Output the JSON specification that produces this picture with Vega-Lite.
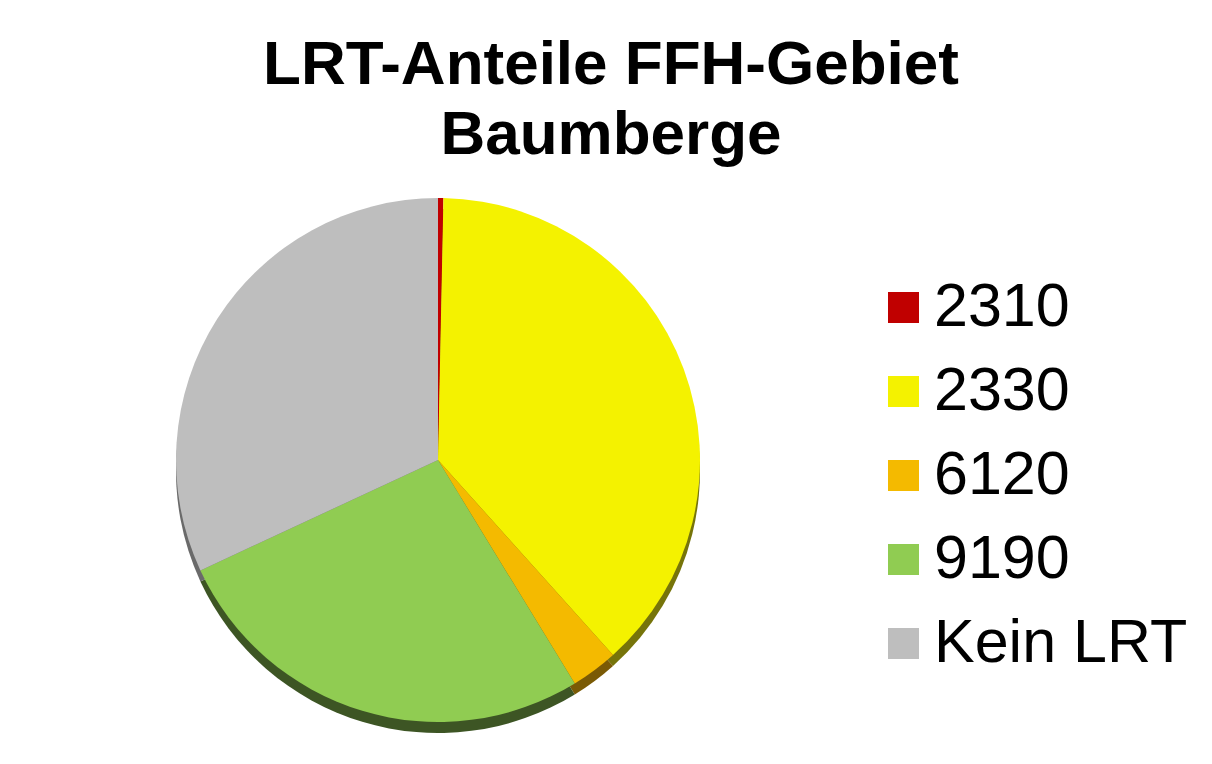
{
  "$schema": "https://vega.github.io/schema/vega-lite/v6.json",
  "autosize": "none",
  "width": 520,
  "height": 520,
  "padding": {"left": 178, "top": 200, "right": 514, "bottom": 44},
  "background": "white",
  "title": {
    "text": ["LRT-Anteile FFH-Gebiet", "Baumberge"],
    "font": "Liberation Sans",
    "fontSize": 62,
    "fontWeight": "bold",
    "lineHeight": 70,
    "color": "black",
    "anchor": "middle",
    "dx": 173,
    "offset": 31
  },
  "data": {
    "values": [
      {"lrt": "2310", "anteil": 0.33},
      {"lrt": "2330", "anteil": 38.0},
      {"lrt": "6120", "anteil": 2.9},
      {"lrt": "9190", "anteil": 26.8},
      {"lrt": "Kein LRT", "anteil": 31.9}
    ]
  },
  "layer": [
    {
      "mark": {"type": "arc", "outerRadius": 262, "yOffset": 11, "stroke": null},
      "encoding": {
        "theta": {"field": "anteil", "type": "quantitative", "stack": true},
        "order": {"field": "lrt", "type": "nominal", "sort": "ascending"},
        "color": {
          "field": "lrt",
          "type": "nominal",
          "scale": {"domain": ["2310", "2330", "6120", "9190", "Kein LRT"], "range": ["#600000", "#76740A", "#7A5A05", "#3D5524", "#6A6A6A"]},
          "legend": null
        }
      }
    },
    {
      "mark": {"type": "arc", "outerRadius": 262, "stroke": null},
      "encoding": {
        "theta": {"field": "anteil", "type": "quantitative", "stack": true},
        "order": {"field": "lrt", "type": "nominal", "sort": "ascending"},
        "color": {
          "field": "lrt",
          "type": "nominal",
          "scale": {"domain": ["2310", "2330", "6120", "9190", "Kein LRT"], "range": ["#C00000", "#F4F200", "#F4BA00", "#90CC52", "#BEBEBE"]},
          "legend": {
            "title": null,
            "orient": "none",
            "legendX": 695,
            "legendY": 77,
            "padding": 0,
            "symbolType": "square",
            "symbolSize": 961,
            "symbolStrokeWidth": 0,
            "labelFont": "Liberation Sans",
            "labelFontSize": 61,
            "labelColor": "black",
            "labelOffset": 0,
            "rowPadding": 22,
            "labelLimit": 400
          }
        }
      }
    }
  ],
  "resolve": {"scale": {"color": "independent"}},
  "config": {"view": {"stroke": null}}
}
